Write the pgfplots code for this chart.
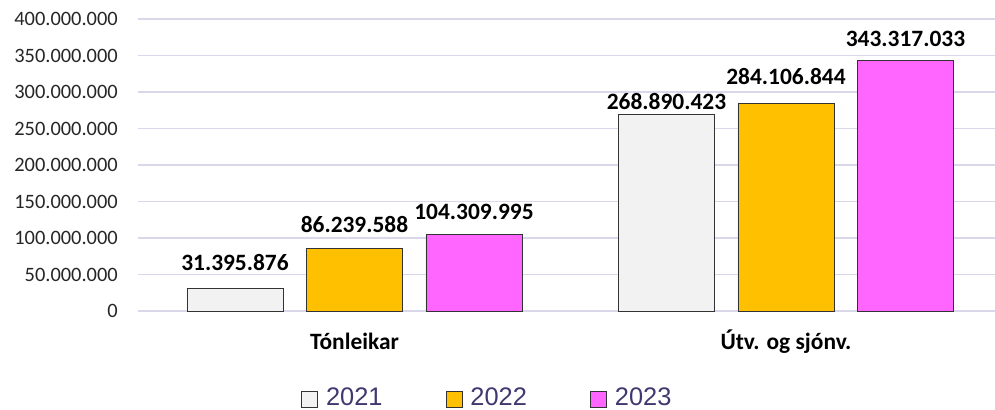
\documentclass[border=0pt]{standalone}
\usepackage{pgfplots}
\pgfplotsset{compat=1.18}
\usepackage{pgfplotstable}
\usepackage{fontspec}
\setmainfont{Carlito}
\newfontfamily\legendfont{Liberation Sans}
\definecolor{gridc}{RGB}{217,215,234}
\definecolor{c21}{RGB}{242,242,242}
\definecolor{c22}{RGB}{255,192,0}
\definecolor{c23}{RGB}{255,102,255}
\definecolor{legc}{RGB}{64,56,110}
\definecolor{tickc}{RGB}{38,38,38}

\pgfplotstableread{
x y lab dy
0 31395876 31.395.876 18
1 268890423 268.890.423 5
}\tA
\pgfplotstableread{
x y lab dy
0 86239588 86.239.588 16
1 284106844 284.106.844 19
}\tB
\pgfplotstableread{
x y lab dy
0 104309995 104.309.995 15
1 343317033 343.317.033 14
}\tC

\begin{document}
\begin{tikzpicture}
\path[use as bounding box] (-138bp,-99bp) rectangle (857bp,311bp);
\begin{axis}[
  at={(0,0)}, anchor=south west,
  width=857bp, height=292bp, scale only axis,
  xmin=-0.5017, xmax=1.4844, ymin=0, ymax=400000000,
  scaled y ticks=false,
  ybar=23.5bp, bar width=96bp,
  axis line style={draw=none},
  major tick length=0pt,
  ymajorgrids, grid style={gridc, line width=1.2bp},
  ytick={0,50000000,100000000,150000000,200000000,250000000,300000000,350000000,400000000},
  yticklabels={0,50.000.000,100.000.000,150.000.000,200.000.000,250.000.000,300.000.000,350.000.000,400.000.000},
  xtick={0,1}, xticklabels={Tónleikar,Útv. og sjónv.},
  yticklabel style={font=\fontsize{20.5}{24}\selectfont, text=tickc, inner sep=0pt, anchor=east, xshift=-20bp},
  xticklabel style={font=\bfseries\fontsize{23.5}{28}\selectfont, text=black, inner sep=0pt, anchor=base, yshift=-38bp},
  nodes near coords, point meta=explicit symbolic,
  every node near coord/.append style={font=\bfseries\fontsize{23.5}{28}\selectfont, inner sep=0pt, anchor=base, text=black},
  legend columns=3,
  legend style={at={(axis description cs:0.1902,-0.2945)}, anchor=west, draw=none, fill=none, inner sep=0pt,
    font=\legendfont\fontsize{25.5}{29}\selectfont, text=legc,
    /tikz/every even column/.append style={column sep=61bp}},
  legend image code/.code={\draw[#1,line width=0.9bp] (0bp,-10bp) rectangle (16bp,6bp); \path (22bp,0bp);},
]
\addplot[fill=c21, draw=black!80, line width=0.9bp,
  visualization depends on={\thisrow{dy}\as\dy},
  every node near coord/.append style={yshift=\dy bp}]
  table[x=x, y=y, meta=lab] {\tA};
\addplot[fill=c22, draw=black!80, line width=0.9bp,
  visualization depends on={\thisrow{dy}\as\dy},
  every node near coord/.append style={yshift=\dy bp}]
  table[x=x, y=y, meta=lab] {\tB};
\addplot[fill=c23, draw=black!80, line width=0.9bp,
  visualization depends on={\thisrow{dy}\as\dy},
  every node near coord/.append style={yshift=\dy bp}]
  table[x=x, y=y, meta=lab] {\tC};
\legend{2021,2022,2023}
\end{axis}
\end{tikzpicture}
\end{document}
